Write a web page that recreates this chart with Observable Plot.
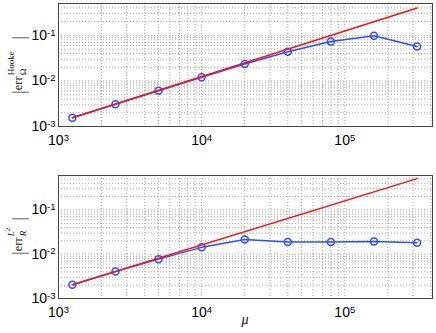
<!DOCTYPE html>
<html>
<head>
<meta charset="utf-8">
<script src="https://cdn.jsdelivr.net/npm/d3@7"></script>
<script src="https://cdn.jsdelivr.net/npm/@observablehq/plot@0.6"></script>
<style>
  html, body { margin: 0; padding: 0; background: #fff; }
  #chart { position: relative; width: 436px; height: 333px; overflow: hidden; background: #fff; }
  #chart svg { position: absolute; left: 0; }
  .ylab { position: absolute; transform: translate(-50%, -50%) rotate(-90deg); display: flex; align-items: center;
          font-family: "Liberation Serif", "DejaVu Serif", serif; color: #111; white-space: nowrap; }
  .bar { font-size: 19px; line-height: 1; color: #333; }
  .base { font-size: 12.5px; }
  .ss { display: inline-flex; flex-direction: column; line-height: 1; margin-left: 1px; }
  .sup { font-size: 9px; position: relative; top: -3px; }
  .sub { font-size: 9px; position: relative; top: 0px; }
  .it { font-style: italic; }
  #xlab { position: absolute; left: 245px; top: 312px; transform: translateX(-50%);
          font-family: "Liberation Serif", "DejaVu Serif", serif; font-style: italic; font-size: 14px; color: #111; }
</style>
</head>
<body>
<div id="chart"></div>
<script>
// ---- data ----
const mu = [1250, 2500, 5000, 10000, 20000, 40000, 80000, 160000, 320000];
const errHooke = [0.00155, 0.00308, 0.0061, 0.0120, 0.0236, 0.0438, 0.0734, 0.098, 0.057];
const errL2 = [0.00205, 0.00405, 0.00775, 0.0143, 0.0215, 0.0190, 0.0190, 0.0195, 0.0181];
const refMu = [1250, 320000];
const refHooke = [0.00155, 0.40];
const refL2 = [0.00205, 0.51];
const xMajor = [1e3, 1e4, 1e5];
const yMajor = [1e-3, 1e-2, 1e-1];
const xDomain = [1e3, 4.1e5];
const yDomainTop = [1e-3, 0.5];
const yDomainBottom = [1e-3, 0.6];

const blue = "#2f4cff";
const red = "#ff1010";
const gridColor = "#a8a8a8";

function minorTicks(domain) {
  return d3.scaleLog().domain(domain).ticks().filter(v => v >= domain[0] && v <= domain[1]);
}
const fmt = d => "10^" + Math.round(Math.log10(d));

function panel(vals, refVals, yDomain, height, marginTop, marginBottom) {
  const rows = mu.map((m, i) => ({mu: m, v: vals[i]}));
  const ref = refMu.map((m, i) => ({mu: m, v: refVals[i]}));
  return Plot.plot({
    width: 436, height, marginLeft: 58, marginRight: 4, marginTop, marginBottom,
    style: {fontFamily: "'Liberation Sans', Arial, sans-serif", fontSize: "14px", color: "#000", background: "transparent", overflow: "visible"},
    x: {type: "log", domain: xDomain, label: null},
    y: {type: "log", domain: yDomain, label: null},
    marks: [
      Plot.gridX(minorTicks(xDomain), {stroke: gridColor, strokeOpacity: 1, strokeDasharray: "1,2"}),
      Plot.gridY(minorTicks(yDomain), {stroke: gridColor, strokeOpacity: 1, strokeDasharray: "1,2"}),
      Plot.axisX(xMajor, {tickFormat: fmt, tickSize: 0, tickPadding: 9, label: null, fill: "#000"}),
      Plot.axisY(yMajor, {tickFormat: fmt, tickSize: 0, tickPadding: 3, label: null, fill: "#000"}),
      Plot.line(rows, {x: "mu", y: "v", stroke: blue, strokeWidth: 1.5}),
      Plot.dot(rows, {x: "mu", y: "v", r: 3.5, stroke: blue, strokeWidth: 1.5, fill: "none"}),
      Plot.line(ref, {x: "mu", y: "v", stroke: red, strokeWidth: 1.5}),
      Plot.frame({stroke: "#444"})
    ]
  });
}

function superscripts(svg) {
  svg.querySelectorAll("text").forEach(t => {
    const m = t.textContent.match(/^10\^(-?\d+)$/);
    if (m) {
      t.textContent = "10";
      const ts = document.createElementNS("http://www.w3.org/2000/svg", "tspan");
      ts.setAttribute("dy", "-0.45em");
      ts.setAttribute("font-size", "9.5px");
      ts.textContent = m[1];
      t.appendChild(ts);
    }
  });
}

const chart = document.getElementById("chart");
const top1 = panel(errHooke, refHooke, yDomainTop, 160, 3, 34);
top1.style.top = "0px";
superscripts(top1);
chart.appendChild(top1);

const bot = panel(errL2, refL2, yDomainBottom, 173, 15, 35);
bot.style.top = "160px";
superscripts(bot);
chart.appendChild(bot);

// y labels
const l1 = document.createElement("div");
l1.className = "ylab";
l1.style.left = "18px"; l1.style.top = "65px"; l1.style.width = "58px";
l1.innerHTML = '<span class="bar">|</span><span class="base">err</span><span class="ss"><span class="sup">Hooke</span><span class="sub">Ω</span></span><span class="bar" style="margin-left:auto">|</span>';
chart.appendChild(l1);

const l2 = document.createElement("div");
l2.className = "ylab";
l2.style.left = "18px"; l2.style.top = "236px"; l2.style.width = "38px";
l2.innerHTML = '<span class="bar">|</span><span class="base">err</span><span class="ss"><span class="sup it">L<span style="font-size:7px;vertical-align:4px;font-style:normal">2</span></span><span class="sub it">R</span></span><span class="bar" style="margin-left:auto">|</span>';
chart.appendChild(l2);

const xl = document.createElement("div");
xl.id = "xlab";
xl.textContent = "μ";
chart.appendChild(xl);
</script>
</body>
</html>
